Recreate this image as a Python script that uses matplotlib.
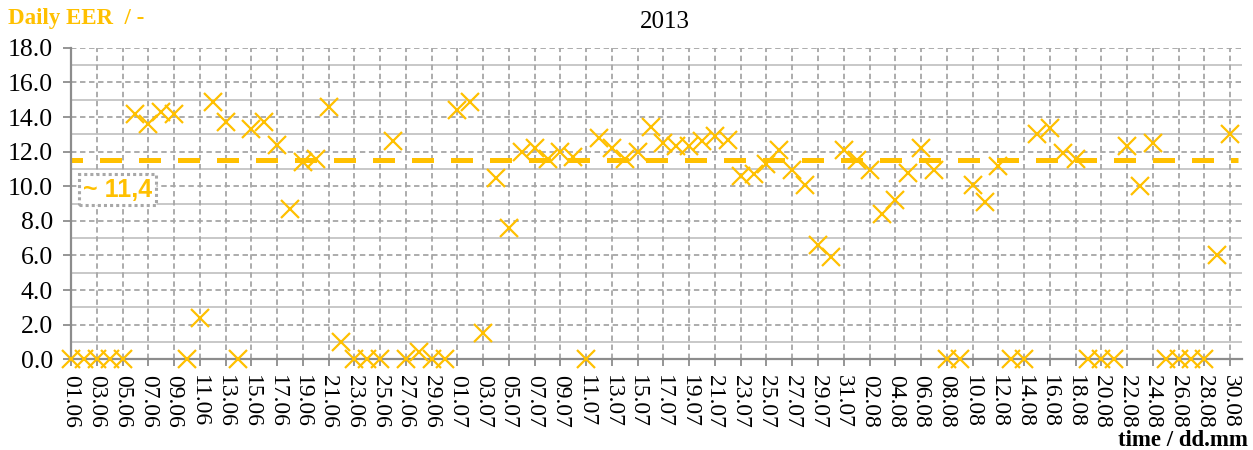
import matplotlib
matplotlib.use("Agg")
import matplotlib.pyplot as plt
import numpy as np
import pandas as pd

# ---- data ----
start_date = "2013-06-01"
eer_daily = [
    0, 0, 0, 0, 0, 14.2, 13.6, 14.3, 14.2, 0,
    2.4, 14.9, 13.7, 0, 13.3, 13.7, 12.4, 8.7, 11.4, 11.6,
    14.6, 1.0, 0, 0, 0, 12.6, 0, 0.4, 0, 0,
    14.4, 14.9, 1.5, 10.5, 7.6, 12.0, 12.2, 11.6, 12.0, 11.7,
    0, 12.8, 12.2, 11.6, 12.0, 13.4, 12.5, 12.3, 12.3, 12.6,
    12.9, 12.7, 10.6, 10.7, 11.3, 12.1, 10.95, 10.1, 6.6, 5.9,
    12.1, 11.5, 10.95, 8.4, 9.2, 10.75, 12.2, 10.95, 0, 0,
    10.1, 9.1, 11.2, 0, 0, 13.0, 13.35, 11.9, 11.6, 0,
    0, 0, 12.3, 10.0, 12.5, 0, 0, 0, 0, 6.0,
    13.0,
]
mean_line = 11.5
mean_label = "~ 11,4"
title = "2013"

dates = pd.date_range(start_date, periods=len(eer_daily), freq="D")
days = np.arange(len(eer_daily))
tick_labels = [d.strftime("%d.%m") for d in dates[::2]]

orange = "#FFC000"
grid_dark = "#A6A6A6"
grid_light = "#C8C8C8"

plt.rcParams["font.family"] = ["Liberation Serif", "DejaVu Serif"]

fig = plt.figure(figsize=(12.53, 4.5), dpi=100)
ax = fig.add_axes([0.0567, 0.2016, 0.9343, 0.692])

# ---- grid ----
for v in np.arange(1, 18, 2):
    ax.axhline(v, color=grid_light, lw=1.4, zorder=0)
for v in np.arange(2, 19, 2):
    ax.axhline(v, color=grid_dark, lw=1.3, ls=(0, (3, 2)), zorder=0)
for d in days[::2]:
    ax.axvline(d, color=grid_dark, lw=1.3, ls=(0, (3, 2)), zorder=0)

# ---- data ----
ax.plot(days, eer_daily, ls="none", marker="x", ms=13, mew=1.6,
        color=orange, zorder=3, clip_on=False)
ax.plot([0, days[-1] + 0.6], [mean_line, mean_line], color=orange,
        lw=3.6, ls=(2.1, (4.4, 3.4)), zorder=2)

ax.text(3.6, 9.8, mean_label, color=orange, fontsize=18, fontweight="bold",
        family=["Liberation Sans Narrow", "Liberation Sans"],
        ha="center", va="center", zorder=4,
        bbox=dict(boxstyle="square,pad=0.15", fc="white", ec="#A8A8A8",
                  lw=2.2, ls=(0, (1, 1))))

ax.set_xlim(0, 90.9)
ax.set_ylim(0, 18)
ax.set_yticks(np.arange(0, 19, 2))
ax.set_yticklabels([f"{v:.1f}" for v in np.arange(0, 19, 2)], fontsize=18.5)
ax.set_xticks(days[::2])
ax.set_xticklabels(tick_labels, rotation=270, fontsize=17, va="top",
                   ha="center")

for s in ["top", "right"]:
    ax.spines[s].set_visible(False)
for s in ["left", "bottom"]:
    ax.spines[s].set_color("#8C8C8C")
    ax.spines[s].set_linewidth(1.6)
ax.tick_params(axis="y", length=6, width=1.3, color="#8C8C8C", pad=7)
ax.tick_params(axis="x", length=5, width=1.3, color="#8C8C8C", pad=6)

fig.text(0.531, 0.95, title, fontsize=18, ha="center", va="center")
fig.text(0.006, 0.958, "Daily EER  / -", fontsize=16.5, fontweight="bold",
         color=orange, ha="left", va="center")
fig.text(0.996, 0.022, "time / dd.mm", fontsize=16.5, fontweight="bold",
         ha="right", va="center")

fig.savefig("out.png", dpi=100)
